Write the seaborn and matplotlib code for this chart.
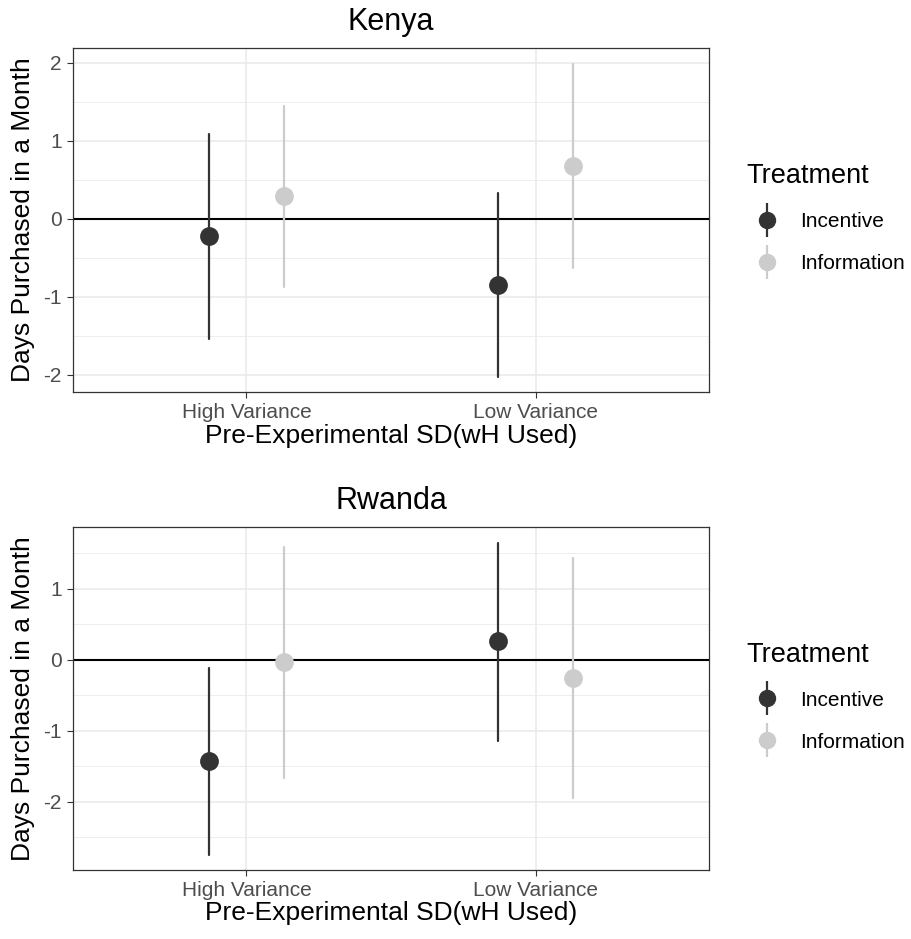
import pandas as pd
import matplotlib.pyplot as plt
import seaborn as sns
from matplotlib.lines import Line2D
from matplotlib.legend_handler import HandlerTuple
from matplotlib.ticker import MultipleLocator

# Categories and groups
categories = ["High Variance", "Low Variance"]
treatments = ["Incentive", "Information"]
colors = ["#333333", "#cccccc"]

# Kenya: estimate, lower and upper bound, per treatment, per category
kenya_inc_est = [-0.22, -0.85]
kenya_inc_lo = [-1.54, -2.03]
kenya_inc_hi = [1.09, 0.33]
kenya_inf_est = [0.29, 0.68]
kenya_inf_lo = [-0.87, -0.63]
kenya_inf_hi = [1.45, 1.99]

# Rwanda
rwanda_inc_est = [-1.42, 0.26]
rwanda_inc_lo = [-2.75, -1.14]
rwanda_inc_hi = [-0.11, 1.65]
rwanda_inf_est = [-0.03, -0.25]
rwanda_inf_lo = [-1.66, -1.94]
rwanda_inf_hi = [1.59, 1.44]


def long_table(inc, inf):
    # three rows per point (lo, est, hi) so median = estimate, min/max = interval
    rows = []
    for t, series in zip(treatments, [inc, inf]):
        est, lo, hi = series
        for i, c in enumerate(categories):
            for v in (lo[i], est[i], hi[i]):
                rows.append({"variance": c, "Treatment": t, "value": v})
    return pd.DataFrame(rows)


kenya = long_table((kenya_inc_est, kenya_inc_lo, kenya_inc_hi),
                   (kenya_inf_est, kenya_inf_lo, kenya_inf_hi))
rwanda = long_table((rwanda_inc_est, rwanda_inc_lo, rwanda_inc_hi),
                    (rwanda_inf_est, rwanda_inf_lo, rwanda_inf_hi))

sns.set_theme(style="ticks")
plt.rcParams["font.family"] = ["Liberation Sans", "DejaVu Sans"]
plt.rcParams["axes.unicode_minus"] = False
plt.rcParams["text.color"] = "black"
plt.rcParams["axes.labelcolor"] = "black"

fig = plt.figure(figsize=(9.12, 9.39), dpi=100)
ax1 = fig.add_axes([0.080, 0.5825, 0.6974, 0.3663])
ax2 = fig.add_axes([0.080, 0.0735, 0.6974, 0.3653])

panels = [(ax1, kenya, "Kenya", (-2.22, 2.19), [-2, -1, 0, 1, 2]),
          (ax2, rwanda, "Rwanda", (-2.96, 1.87), [-2, -1, 0, 1])]

for ax, df, title, ylim, yticks in panels:
    ax.axhline(0, color="black", lw=1.5, zorder=1)
    sns.pointplot(data=df, x="variance", y="value", hue="Treatment",
                  order=categories, hue_order=treatments, palette=colors,
                  estimator="median", errorbar=lambda v: (v.min(), v.max()),
                  dodge=0.26, linestyle="none", markers="o", markersize=11.5,
                  err_kws={"linewidth": 1.6}, legend=False, ax=ax)
    ax.set_xlim(-0.6, 1.6)
    ax.set_ylim(*ylim)
    ax.set_yticks(yticks)
    ax.yaxis.set_minor_locator(MultipleLocator(0.5))
    ax.grid(True, which="major", color="#ebebeb", lw=1.2, zorder=0)
    ax.grid(True, which="minor", axis="y", color="#ebebeb", lw=0.6, zorder=0)
    ax.set_axisbelow(True)
    ax.tick_params(which="minor", length=0)
    ax.tick_params(which="major", length=4, color="#333333", width=0.8,
                   labelsize=15, labelcolor="#4d4d4d", pad=4)
    for s in ax.spines.values():
        s.set_color("#333333")
        s.set_linewidth(0.9)
    ax.set_title(title, fontsize=22, pad=13, color="black")
    ax.set_xlabel("Pre-Experimental SD(wH Used)", fontsize=19, labelpad=1)
    ax.set_ylabel("Days Purchased in a Month", fontsize=19, labelpad=6)

    handles = []
    for c in colors:
        bar = Line2D([], [], color=c, marker="|", markersize=25,
                     markeredgewidth=1.6, linestyle="none")
        dot = Line2D([], [], color=c, marker="o", markersize=11.5,
                     linestyle="none")
        handles.append((bar, dot))
    leg = ax.legend(handles, treatments, title="Treatment",
                    handler_map={tuple: HandlerTuple(ndivide=1)},
                    loc="center left", bbox_to_anchor=(1.03, 0.505),
                    frameon=False, fontsize=15, title_fontsize=19.5,
                    labelspacing=1.1, handletextpad=0.65, handlelength=1.9,
                    alignment="left", labelcolor="black")

fig.savefig("out.png", dpi=100)
